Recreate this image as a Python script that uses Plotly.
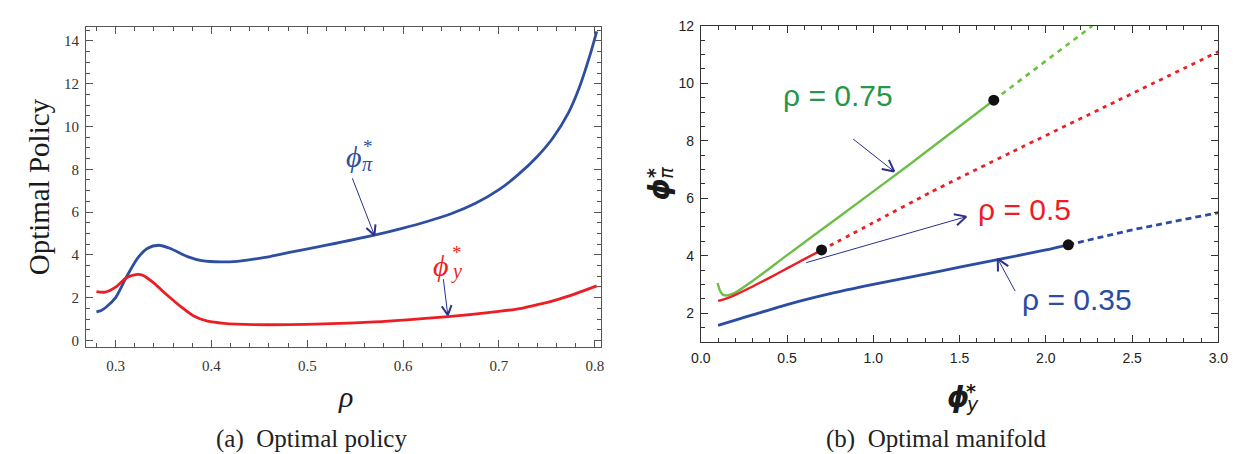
import math
import plotly.graph_objects as go

# ---------------- data: panel (a) ----------------
rho_pi = [0.280, 0.285, 0.290, 0.300, 0.311, 0.323, 0.333, 0.345, 0.357, 0.375, 0.390,
          0.410, 0.427, 0.444, 0.461, 0.480, 0.520, 0.570, 0.600, 0.625, 0.650, 0.675,
          0.700, 0.720, 0.740, 0.756, 0.772, 0.784, 0.795, 0.802]
phi_pi = [1.33, 1.40, 1.55, 2.00, 2.94, 3.85, 4.30, 4.45, 4.30, 3.92, 3.73,
          3.67, 3.70, 3.80, 3.92, 4.10, 4.45, 4.92, 5.25, 5.56, 5.92, 6.40,
          7.05, 7.75, 8.60, 9.45, 10.60, 11.85, 13.35, 14.45]
rho_y = [0.280, 0.289, 0.300, 0.311, 0.321, 0.328, 0.340, 0.354, 0.368, 0.382, 0.396,
         0.413, 0.444, 0.480, 0.550, 0.600, 0.647, 0.700, 0.722, 0.740, 0.760, 0.780, 0.802]
phi_y = [2.28, 2.26, 2.49, 2.92, 3.08, 3.05, 2.68, 2.11, 1.58, 1.13, 0.90,
         0.80, 0.74, 0.74, 0.82, 0.95, 1.11, 1.36, 1.49, 1.67, 1.90, 2.19, 2.55]

# ---------------- data: panel (b) ----------------
g_x = [0.097, 0.110, 0.125, 0.140, 0.160, 0.200, 0.300, 0.500, 0.800, 1.200, 1.698]
g_y = [3.05, 2.80, 2.66, 2.62, 2.63, 2.72, 3.12, 4.02, 5.35, 7.13, 9.41]
g_dx = [1.698, 2.000, 2.270]
g_dy = [9.41, 10.76, 12.00]

r_x = [0.10, 0.15, 0.20, 0.30, 0.40, 0.50, 0.60, 0.70]
r_y = [2.43, 2.52, 2.64, 2.93, 3.24, 3.56, 3.88, 4.20]
r_dx = [0.70, 1.00, 1.33, 1.80, 2.40, 3.00]
r_dy = [4.20, 5.15, 6.20, 7.60, 9.35, 11.10]

b_x = [0.10, 0.20, 0.30, 0.50, 0.75, 1.00, 1.25, 1.50, 1.75, 2.00, 2.13]
b_y = [1.58, 1.76, 1.94, 2.30, 2.68, 3.00, 3.30, 3.60, 3.90, 4.20, 4.38]
b_dx = [2.13, 2.50, 3.00]
b_dy = [4.38, 4.90, 5.50]

dots_x = [1.698, 0.70, 2.13]
dots_y = [9.41, 4.20, 4.38]

labels_b = ["ρ = 0.75", "ρ = 0.5", "ρ = 0.35"]

# ---------------- layout geometry ----------------
W, H = 1243, 454
def px2x(p):
    return p / W
def px2y(p):
    return 1 - p / H

L_XR = [0.269, 0.8066]
L_YR = [-0.30, 14.63]
L_DX = [px2x(69), px2x(592.7)]
L_DY = [px2y(338.3), px2y(11.7)]
R_XR = [0.0, 3.0]
R_YR = [1.0, 12.0]
R_DX = [px2x(694), px2x(1220)]
R_DY = [px2y(333.3), px2y(10)]

BLUE_L = "rgb(46,78,160)"
RED = "rgb(236,30,36)"
GREEN = "rgb(108,190,70)"
GREEN_T = "rgb(40,150,72)"
BLUE_R = "rgb(42,76,162)"
ARROW = "rgb(42,48,140)"

fig = go.Figure()
fig.add_trace(go.Scatter(x=rho_pi, y=phi_pi, mode="lines", line=dict(color=BLUE_L, width=2.8, shape="spline", smoothing=0.8), xaxis="x", yaxis="y"))
fig.add_trace(go.Scatter(x=rho_y, y=phi_y, mode="lines", line=dict(color=RED, width=2.8, shape="spline", smoothing=0.8), xaxis="x", yaxis="y"))

fig.add_trace(go.Scatter(x=b_x, y=b_y, mode="lines", line=dict(color=BLUE_R, width=2.8, shape="spline", smoothing=0.6), xaxis="x2", yaxis="y2"))
fig.add_trace(go.Scatter(x=b_dx, y=b_dy, mode="lines", line=dict(color=BLUE_R, width=2.8, dash="6px,4px"), xaxis="x2", yaxis="y2"))
fig.add_trace(go.Scatter(x=r_dx, y=r_dy, mode="lines", line=dict(color=RED, width=2.8, dash="4px,5px", shape="spline", smoothing=0.6), xaxis="x2", yaxis="y2"))
fig.add_trace(go.Scatter(x=g_dx, y=g_dy, mode="lines", line=dict(color=GREEN, width=2.6, dash="5px,5px"), xaxis="x2", yaxis="y2"))
fig.add_trace(go.Scatter(x=g_x, y=g_y, mode="lines", line=dict(color=GREEN, width=2.4, shape="spline", smoothing=0.6), xaxis="x2", yaxis="y2"))
fig.add_trace(go.Scatter(x=r_x, y=r_y, mode="lines", line=dict(color=RED, width=2.4, shape="spline", smoothing=0.6), xaxis="x2", yaxis="y2"))
fig.add_trace(go.Scatter(x=dots_x, y=dots_y, mode="markers", marker=dict(color="#111111", size=11), xaxis="x2", yaxis="y2"))

def axis_common(font, color):
    return dict(showgrid=False, zeroline=False, showline=True, linecolor=color, linewidth=1,
                mirror="ticks", ticks="inside", ticklen=7, tickcolor=color, tickwidth=1,
                tickfont=dict(family=font, size=15, color="#333333"))

xa = axis_common("Liberation Serif", "#555555")
xa.update(range=L_XR, domain=L_DX, anchor="y", tick0=0.3, dtick=0.1, tickformat=".1f",
          minor=dict(dtick=0.02, ticks="inside", ticklen=4, tickcolor="#555555"), ticklabelstandoff=5)
ya = axis_common("Liberation Serif", "#555555")
ya.update(range=L_YR, domain=L_DY, anchor="x", tick0=0, dtick=2,
          minor=dict(dtick=0.5, ticks="inside", ticklen=4, tickcolor="#555555"), ticklabelstandoff=3)
xb = axis_common("Liberation Sans", "#333333")
xb.update(range=R_XR, domain=R_DX, anchor="y2", tick0=0, dtick=0.5, tickformat=".1f",
          tickfont=dict(family="Liberation Sans", size=14, color="#222222"),
          minor=dict(dtick=0.1, ticks="inside", ticklen=4, tickcolor="#333333"), ticklabelstandoff=3)
yb = axis_common("Liberation Sans", "#333333")
yb.update(range=R_YR, domain=R_DY, anchor="x2", tick0=0, dtick=2,
          tickfont=dict(family="Liberation Sans", size=14, color="#222222"),
          minor=dict(dtick=0.5, ticks="inside", ticklen=4, tickcolor="#333333"), ticklabelstandoff=3)

ann = []
shapes = []

def add_arrow(xr, yr, xrange_, yrange_, xdom, ydom, x0, y0, x1, y1, hl=11, ang=27):
    sx = (xdom[1] - xdom[0]) * W / (xrange_[1] - xrange_[0])
    sy = (ydom[1] - ydom[0]) * H / (yrange_[1] - yrange_[0])
    dx, dy = (x1 - x0) * sx, (y1 - y0) * sy
    n = math.hypot(dx, dy)
    ux, uy = -dx / n, -dy / n
    shapes.append(dict(type="line", xref=xr, yref=yr, x0=x0, y0=y0, x1=x1, y1=y1,
                       line=dict(color=ARROW, width=1)))
    for s in (1, -1):
        a = math.radians(ang) * s
        vx = ux * math.cos(a) - uy * math.sin(a)
        vy = ux * math.sin(a) + uy * math.cos(a)
        shapes.append(dict(type="line", xref=xr, yref=yr, x0=x1, y0=y1,
                           x1=x1 + vx * hl / sx, y1=y1 + vy * hl / sy,
                           line=dict(color=ARROW, width=2)))

# panel (a) arrows
add_arrow("x", "y", L_XR, L_YR, L_DX, L_DY, 0.547, 7.58, 0.570, 4.92)
add_arrow("x", "y", L_XR, L_YR, L_DX, L_DY, 0.642, 2.86, 0.6466, 1.18)
# panel (b) arrows
add_arrow("x2", "y2", R_XR, R_YR, R_DX, R_DY, 0.883, 8.06, 1.121, 6.93, hl=13)
add_arrow("x2", "y2", R_XR, R_YR, R_DX, R_DY, 0.611, 3.76, 1.539, 5.36, hl=13)
add_arrow("x2", "y2", R_XR, R_YR, R_DX, R_DY, 1.822, 2.77, 1.721, 3.89, hl=13)

SERIF = "Liberation Serif, DejaVu Serif, serif"
SANS = "Liberation Sans, Arial, sans-serif"

def a(text, x, y, xref, yref, size, color, family=SERIF, angle=0, yanchor="middle"):
    ann.append(dict(text=text, x=x, y=y, xref=xref, yref=yref, showarrow=False,
                    font=dict(family=family, size=size, color=color), textangle=angle,
                    xanchor="center", yanchor=yanchor))

# panel (a) curve labels
a("<i>ϕ</i>", 0.549, 8.61, "x", "y", 30, BLUE_L)
a("*", 0.5637, 9.05, "x", "y", 19, BLUE_L)
a("<i>π</i>", 0.5632, 8.27, "x", "y", 20, BLUE_L)
a("<i>ϕ</i>", 0.6397, 3.51, "x", "y", 30, RED)
a("*", 0.6558, 4.10, "x", "y", 19, RED)
a("<i>y</i>", 0.6560, 3.24, "x", "y", 20, RED)

# panel (a) axis titles and caption
a("Optimal Policy", px2x(21.5), px2y(175), "paper", "paper", 29, "#1a1a1a", angle=-90)
a("<i>ρ</i>", px2x(333), px2y(389), "paper", "paper", 30, "#1a1a1a")
a("(a)  Optimal policy", px2x(298), px2y(449), "paper", "paper", 25, "#222222", yanchor="bottom")

# panel (b) labels
a(labels_b[0], 0.797, 9.58, "x2", "y2", 30, GREEN_T, family=SANS)
a(labels_b[1], 1.879, 5.61, "x2", "y2", 30, RED, family=SANS)
a(labels_b[2], 2.178, 2.48, "x2", "y2", 30, BLUE_R, family=SANS)

# panel (b) axis titles and caption
a("<b><i>ϕ</i></b>", px2x(652), px2y(178), "paper", "paper", 28, "#1a1a1a", family="DejaVu Sans", angle=-90)
a("<b>*</b>", px2x(647), px2y(161), "paper", "paper", 19, "#1a1a1a", family="DejaVu Sans", angle=-90)
a("<i>π</i>", px2x(659), px2y(160), "paper", "paper", 19, "#1a1a1a", family="DejaVu Sans", angle=-90)
a("<b><i>ϕ</i></b>", px2x(955), px2y(390), "paper", "paper", 28, "#1a1a1a", family="DejaVu Sans")
a("<b>*</b>", px2x(969), px2y(383), "paper", "paper", 19, "#1a1a1a", family="DejaVu Sans")
a("<i>y</i>", px2x(970), px2y(397), "paper", "paper", 19, "#1a1a1a", family="DejaVu Sans")
a("(b)  Optimal manifold", px2x(934), px2y(449), "paper", "paper", 25, "#222222", yanchor="bottom")

fig.update_layout(width=W, height=H, margin=dict(l=0, r=0, t=0, b=0),
                  paper_bgcolor="white", plot_bgcolor="white", showlegend=False,
                  xaxis=xa, yaxis=ya, xaxis2=xb, yaxis2=yb,
                  annotations=ann, shapes=shapes)

fig.write_html("out.html")
